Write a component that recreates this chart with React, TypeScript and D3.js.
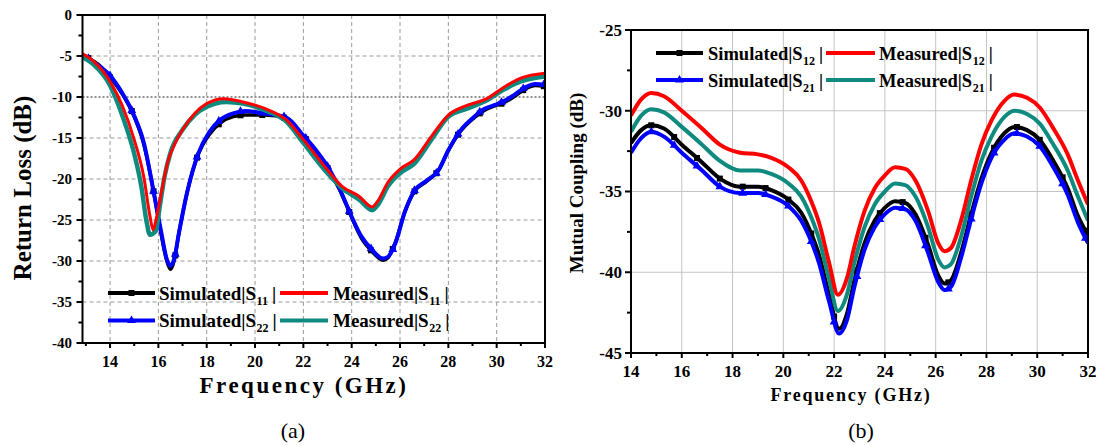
import React, { useEffect, useRef } from 'react';
import * as d3 from 'd3';

const W = 1101;
const H = 446;
const FONT = '"Liberation Serif", "Times New Roman", serif';

// ---------- Panel (a): Return loss ----------
const aXTicks = [14, 16, 18, 20, 22, 24, 26, 28, 30, 32];
const aXMinor = [13, 15, 17, 19, 21, 23, 25, 27, 29, 31];
const aYTicks = [0, -5, -10, -15, -20, -25, -30, -35, -40];
const aYMinor = [-2.5, -7.5, -12.5, -17.5, -22.5, -27.5, -32.5, -37.5];

const aSimS11: [number, number][] = [
  [12.9, -5.0], [13.5, -6.0], [14, -7.6], [14.5, -9.6], [15, -12.4], [15.4, -15.8], [15.8, -21.5],
  [16.1, -26.5], [16.35, -30.0], [16.5, -31.0], [16.65, -30.0], [16.85, -26.6], [17.2, -21.5],
  [17.65, -17.0], [18.1, -14.6], [18.6, -13.1], [19.1, -12.4], [19.6, -12.2], [20.4, -12.2],
  [21.3, -12.6], [22.0, -14.8], [22.5, -16.5], [23.05, -18.9], [23.5, -21.3], [24.0, -24.7],
  [24.4, -27.2], [24.8, -28.7], [25.3, -29.9], [25.5, -29.6], [25.8, -27.8], [26.2, -24.0],
  [26.6, -21.5], [27.1, -20.3], [27.6, -18.9], [28.0, -16.5], [28.5, -14.2], [29.0, -12.7],
  [29.4, -11.8], [29.9, -11.1], [30.3, -10.7], [30.7, -10.0], [31.2, -9.0], [31.6, -8.6], [32, -8.7],
];
const aSimS22: [number, number][] = [
  [12.95, -5.0], [13.5, -6.1], [14, -7.4], [14.5, -9.5], [15, -12.3], [15.4, -15.6], [15.8, -21.5],
  [16.1, -26.2], [16.35, -29.8], [16.5, -30.6], [16.65, -29.8], [16.85, -26.6], [17.2, -21.5],
  [17.65, -16.9], [18.1, -14.3], [18.6, -12.7], [19.1, -12.0], [19.6, -11.7], [20.4, -12.0],
  [21.3, -12.5], [22.0, -14.7], [22.5, -16.4], [23.05, -18.7], [23.5, -21.2], [24.0, -24.6],
  [24.4, -27.0], [24.8, -28.5], [25.3, -29.7], [25.5, -29.5], [25.8, -27.9], [26.2, -24.0],
  [26.6, -21.4], [27.1, -20.2], [27.6, -18.9], [28.0, -16.5], [28.5, -14.1], [29.0, -12.6],
  [29.4, -11.6], [29.9, -11.0], [30.3, -10.5], [30.7, -9.8], [31.2, -8.8], [31.6, -8.4], [32, -8.5],
];
const aMeasS11: [number, number][] = [
  [12.85, -4.7], [13.3, -5.6], [14, -8.1], [14.5, -11.0], [15, -15.2], [15.4, -19.8], [15.65, -24.5],
  [15.78, -26.2], [15.9, -25.0], [16.1, -22.0], [16.4, -17.8], [16.7, -15.6], [17.0, -14.0],
  [17.5, -12.0], [18.0, -10.8], [18.7, -10.2], [19.5, -10.6], [20.4, -11.4], [21.3, -12.8],
  [22.0, -15.2], [23.0, -18.9], [23.6, -20.9], [24.3, -22.1], [24.85, -23.4], [25.1, -22.6],
  [25.5, -20.4], [26.0, -18.8], [26.6, -17.6], [27.3, -14.8], [28.0, -12.2], [28.8, -11.0],
  [29.6, -10.2], [30.3, -8.8], [31.0, -7.7], [32, -7.1],
];
const aMeasS22: [number, number][] = [
  [12.85, -5.1], [13.3, -6.0], [14, -8.6], [14.5, -12.2], [15, -16.9], [15.3, -21.0], [15.5, -25.0],
  [15.65, -26.8], [15.9, -26.3], [16.05, -23.5], [16.25, -19.8], [16.5, -16.8], [17.0, -14.0],
  [17.5, -12.2], [18.0, -11.2], [18.8, -10.6], [19.5, -10.8], [20.4, -11.6], [21.3, -13.0],
  [22.0, -15.6], [23.0, -19.3], [23.6, -21.1], [24.3, -22.5], [24.85, -23.8], [25.1, -23.1],
  [25.5, -20.9], [26.0, -19.3], [26.6, -18.1], [27.3, -15.2], [28.0, -12.4], [28.8, -11.4],
  [29.6, -10.4], [30.3, -9.1], [31.0, -8.1], [32, -7.5],
];
const aMarkerFreqs = [13.1, 14.0, 14.9, 15.8, 16.7, 17.6, 18.5, 19.4, 20.3, 21.2, 22.1, 23.0, 23.9,
  24.8, 25.7, 26.6, 27.5, 28.4, 29.3, 30.2, 31.1, 31.95];

// ---------- Panel (b): Mutual coupling ----------
const bXTicks = [14, 16, 18, 20, 22, 24, 26, 28, 30, 32];
const bXMinor = [15, 17, 19, 21, 23, 25, 27, 29, 31];
const bYTicks = [-25, -30, -35, -40, -45];
const bYMinor = [-27.5, -32.5, -37.5, -42.5];

const bSimS12: [number, number][] = [
  [14.0, -32.0], [14.4, -31.2], [14.8, -30.9], [15.3, -31.1], [16.0, -32.1], [16.8, -33.2], [17.5, -34.2],
  [18.3, -34.7], [19.0, -34.7], [19.5, -34.9], [20.2, -35.5], [20.7, -36.3], [21.1, -37.6], [21.4, -38.9],
  [21.8, -41.4], [22.2, -43.5], [22.5, -42.6], [22.8, -40.5], [23.2, -38.2], [23.6, -36.8], [24.0, -36.0],
  [24.4, -35.6], [24.8, -35.7], [25.2, -36.4], [25.7, -38.3], [26.1, -40.2], [26.35, -40.7], [26.6, -40.5],
  [27.0, -38.8], [27.4, -36.4], [27.8, -34.2], [28.2, -32.6], [28.7, -31.4], [29.1, -31.0], [29.6, -31.2],
  [30.1, -31.8], [30.6, -33.0], [31.2, -34.8], [31.6, -36.5], [32.0, -37.7],
];
const bSimS21: [number, number][] = [
  [14.0, -32.6], [14.4, -31.7], [14.8, -31.3], [15.3, -31.6], [16.0, -32.6], [16.8, -33.7], [17.5, -34.7],
  [18.3, -35.1], [19.0, -35.1], [19.5, -35.3], [20.2, -35.9], [20.7, -36.8], [21.1, -38.1], [21.4, -39.4],
  [21.8, -41.8], [22.2, -43.8], [22.5, -43.0], [22.8, -40.9], [23.2, -38.6], [23.6, -37.2], [24.0, -36.4],
  [24.4, -36.0], [24.8, -36.1], [25.2, -36.8], [25.7, -38.8], [26.1, -40.6], [26.35, -41.1], [26.6, -40.9],
  [27.0, -39.1], [27.4, -36.7], [27.8, -34.5], [28.2, -32.9], [28.7, -31.8], [29.1, -31.4], [29.6, -31.6],
  [30.1, -32.2], [30.6, -33.4], [31.2, -35.2], [31.6, -36.9], [32.0, -38.2],
];
const bMeasS12: [number, number][] = [
  [14.0, -30.3], [14.4, -29.3], [14.8, -28.9], [15.3, -29.1], [16.0, -30.0], [16.8, -31.1], [17.5, -32.1],
  [18.3, -32.6], [19.0, -32.7], [19.5, -32.9], [20.2, -33.5], [20.7, -34.3], [21.1, -35.6], [21.4, -36.9],
  [21.8, -39.4], [22.15, -41.4], [22.5, -40.4], [22.8, -38.4], [23.2, -36.2], [23.6, -34.8], [24.0, -34.0],
  [24.4, -33.5], [24.8, -33.6], [25.2, -34.3], [25.7, -36.2], [26.1, -38.2], [26.35, -38.7], [26.6, -38.5],
  [27.0, -36.8], [27.4, -34.3], [27.8, -32.1], [28.2, -30.6], [28.7, -29.4], [29.1, -29.0], [29.6, -29.2],
  [30.1, -29.8], [30.6, -31.0], [31.2, -32.7], [31.6, -34.3], [32.0, -35.8],
];
const bMeasS21: [number, number][] = [
  [14.0, -31.3], [14.4, -30.3], [14.8, -29.9], [15.3, -30.1], [16.0, -31.0], [16.8, -32.1], [17.5, -33.1],
  [18.3, -33.7], [19.0, -33.7], [19.5, -33.9], [20.2, -34.5], [20.7, -35.3], [21.1, -36.6], [21.4, -37.9],
  [21.8, -40.4], [22.15, -42.4], [22.5, -41.4], [22.8, -39.4], [23.2, -37.2], [23.6, -35.8], [24.0, -35.0],
  [24.4, -34.5], [24.8, -34.6], [25.2, -35.3], [25.7, -37.2], [26.1, -39.2], [26.35, -39.7], [26.6, -39.5],
  [27.0, -37.8], [27.4, -35.3], [27.8, -33.1], [28.2, -31.6], [28.7, -30.4], [29.1, -30.0], [29.6, -30.2],
  [30.1, -30.8], [30.6, -32.0], [31.2, -33.7], [31.6, -35.3], [32.0, -36.8],
];
const bMarkerFreqs = [14.8, 15.7, 16.6, 17.5, 18.4, 19.3, 20.2, 21.1, 22.0, 22.9, 23.8, 24.7, 25.6,
  26.5, 27.4, 28.3, 29.2, 30.1, 31.0, 31.9];

type Series = { data: [number, number][]; color: string; width: number; marker?: 'square' | 'triangle' };
type Legend = { x1: number; x2: number; tx: number; y: number; color: string; marker?: 'square' | 'triangle'; main: string; sub: string };

type Panel = {
  id: string;
  left: number; right: number; top: number; bottom: number;
  xDomain: [number, number]; yDomain: [number, number];
  xTicks: number[]; xMinor: number[]; yTicks: number[]; yMinor: number[];
  gridColor: string; gridDash: string | null; refLine?: number;
  series: Series[]; markerFreqs: number[];
  yLabelX: number; yLabelSize: number; xLabelY: number; xLabelSize: number;
  xTitle: { x: number; y: number; size: number; ls: number };
  yTitle: { x: number; y: number; size: number; text: string };
  tag: { x: number; y: number; text: string };
  legend: Legend[]; legendSize: number; legendSub: number; legendWidth: number;
};

function drawMarker(g: any, kind: 'square' | 'triangle', cx: number, cy: number, color: string) {
  if (kind === 'square') {
    g.append('rect').attr('x', cx - 3).attr('y', cy - 3).attr('width', 6).attr('height', 6).attr('fill', color);
  } else {
    g.append('path')
      .attr('d', d3.symbol(d3.symbolTriangle, 34)())
      .attr('transform', `translate(${cx},${cy})`)
      .attr('fill', color);
  }
}

function drawPanel(root: any, p: Panel) {
  const g = root.append('g');
  const x = d3.scaleLinear().domain(p.xDomain).range([p.left, p.right]);
  const y = d3.scaleLinear().domain(p.yDomain).range([p.bottom, p.top]);

  // grid
  const grid = g.append('g');
  p.xTicks.filter((t) => x(t) > p.left + 1 && x(t) < p.right - 1).forEach((t) => {
    grid.append('line').attr('x1', x(t)).attr('x2', x(t)).attr('y1', p.top).attr('y2', p.bottom)
      .attr('stroke', p.gridColor).attr('stroke-width', 1).attr('stroke-dasharray', p.gridDash);
  });
  p.yTicks.filter((t) => y(t) > p.top + 1 && y(t) < p.bottom - 1 && t !== p.refLine).forEach((t) => {
    grid.append('line').attr('y1', y(t)).attr('y2', y(t)).attr('x1', p.left).attr('x2', p.right)
      .attr('stroke', p.gridColor).attr('stroke-width', 1).attr('stroke-dasharray', p.gridDash);
  });
  if (p.refLine !== undefined) {
    grid.append('line').attr('y1', y(p.refLine)).attr('y2', y(p.refLine)).attr('x1', p.left).attr('x2', p.right)
      .attr('stroke', '#222').attr('stroke-width', 1.2).attr('stroke-dasharray', '2,2');
  }

  // clip
  const clipId = `clip-${p.id}`;
  root.append('defs').append('clipPath').attr('id', clipId).append('rect')
    .attr('x', p.left).attr('y', p.top).attr('width', p.right - p.left).attr('height', p.bottom - p.top);

  const line = d3.line<[number, number]>().x((d) => x(d[0])).y((d) => y(d[1])).curve(d3.curveMonotoneX);
  const plot = g.append('g').attr('clip-path', `url(#${clipId})`);
  p.series.forEach((s) => {
    const path = plot.append('path').attr('d', line(s.data)).attr('fill', 'none')
      .attr('stroke', s.color).attr('stroke-width', s.width).attr('stroke-linejoin', 'round');
    if (s.marker) {
      const node = path.node() as SVGPathElement;
      const total = node.getTotalLength();
      p.markerFreqs.forEach((f) => {
        const target = x(f);
        let lo = 0, hi = total;
        for (let i = 0; i < 40; i++) {
          const mid = (lo + hi) / 2;
          if (node.getPointAtLength(mid).x < target) lo = mid; else hi = mid;
        }
        const pt = node.getPointAtLength((lo + hi) / 2);
        drawMarker(plot, s.marker as any, pt.x, pt.y, s.color);
      });
    }
  });

  // frame
  g.append('rect').attr('x', p.left).attr('y', p.top).attr('width', p.right - p.left).attr('height', p.bottom - p.top)
    .attr('fill', 'none').attr('stroke', '#000').attr('stroke-width', 2);

  // ticks
  const tk = g.append('g').attr('stroke', '#000').attr('stroke-width', 2);
  p.xTicks.forEach((t) => tk.append('line').attr('x1', x(t)).attr('x2', x(t)).attr('y1', p.bottom).attr('y2', p.bottom + 5));
  p.xMinor.forEach((t) => tk.append('line').attr('x1', x(t)).attr('x2', x(t)).attr('y1', p.bottom).attr('y2', p.bottom + 3));
  p.yTicks.forEach((t) => tk.append('line').attr('y1', y(t)).attr('y2', y(t)).attr('x1', p.left).attr('x2', p.left - 6));
  p.yMinor.forEach((t) => tk.append('line').attr('y1', y(t)).attr('y2', y(t)).attr('x1', p.left).attr('x2', p.left - 4));

  // tick labels
  const lab = g.append('g').attr('font-family', FONT).attr('font-weight', 'bold').attr('fill', '#000');
  p.xTicks.forEach((t) => lab.append('text').attr('x', x(t)).attr('y', p.xLabelY).attr('text-anchor', 'middle')
    .attr('font-size', p.xLabelSize).text(String(t)));
  p.yTicks.forEach((t) => lab.append('text').attr('x', p.yLabelX).attr('y', y(t)).attr('dy', '0.35em')
    .attr('text-anchor', 'end').attr('font-size', p.yLabelSize).text(String(t)));

  // titles
  lab.append('text').attr('x', p.xTitle.x).attr('y', p.xTitle.y).attr('text-anchor', 'middle')
    .attr('font-size', p.xTitle.size).attr('letter-spacing', p.xTitle.ls).text('Frequency (GHz)');
  lab.append('text').attr('transform', `translate(${p.yTitle.x},${p.yTitle.y}) rotate(-90)`)
    .attr('text-anchor', 'middle').attr('font-size', p.yTitle.size).text(p.yTitle.text);
  g.append('text').attr('x', p.tag.x).attr('y', p.tag.y).attr('text-anchor', 'middle')
    .attr('font-family', FONT).attr('font-size', 22).text(p.tag.text);

  // legend
  const lg = g.append('g');
  p.legend.forEach((l) => {
    lg.append('line').attr('x1', l.x1).attr('x2', l.x2).attr('y1', l.y).attr('y2', l.y)
      .attr('stroke', l.color).attr('stroke-width', p.legendWidth);
    if (l.marker) drawMarker(lg, l.marker, (l.x1 + l.x2) / 2, l.y, l.color);
    const t = lg.append('text').attr('x', l.tx).attr('y', l.y + 6.5).attr('font-family', FONT)
      .attr('font-weight', 'bold').attr('font-size', p.legendSize).attr('fill', '#000');
    t.append('tspan').text(l.main);
    t.append('tspan').attr('font-size', p.legendSub).attr('dy', 5).attr('dx', 0.5).text(l.sub);
    t.append('tspan').attr('dy', -5).attr('dx', 4).text('|');
  });
}

const panelA: Panel = {
  id: 'a', left: 82.5, right: 545, top: 15, bottom: 343,
  xDomain: [12.86, 32], yDomain: [-40, 0],
  xTicks: aXTicks, xMinor: aXMinor, yTicks: aYTicks, yMinor: aYMinor,
  gridColor: '#9a9a9a', gridDash: '4,3', refLine: -10,
  series: [
    { data: aSimS11, color: '#000000', width: 3.5, marker: 'square' },
    { data: aSimS22, color: '#0000ff', width: 4, marker: 'triangle' },
    { data: aMeasS22, color: '#0f8a7e', width: 4.5 },
    { data: aMeasS11, color: '#ff0000', width: 3 },
  ],
  markerFreqs: aMarkerFreqs,
  yLabelX: 72, yLabelSize: 15, xLabelY: 367, xLabelSize: 16,
  xTitle: { x: 304, y: 393, size: 23, ls: 2.5 },
  yTitle: { x: 31, y: 188, size: 25, text: 'Return Loss (dB)' },
  tag: { x: 293, y: 438, text: '(a)' },
  legend: [
    { x1: 108, x2: 155, tx: 159, y: 293, color: '#000000', marker: 'square', main: 'Simulated|S', sub: '11' },
    { x1: 280, x2: 328, tx: 333, y: 293, color: '#ff0000', main: 'Measured|S', sub: '11' },
    { x1: 108, x2: 155, tx: 159, y: 320.5, color: '#0000ff', marker: 'triangle', main: 'Simulated|S', sub: '22' },
    { x1: 280, x2: 328, tx: 333, y: 320.5, color: '#0f8a7e', main: 'Measured|S', sub: '22' },
  ],
  legendSize: 19, legendSub: 12, legendWidth: 4,
};

const panelB: Panel = {
  id: 'b', left: 631, right: 1088, top: 30, bottom: 353,
  xDomain: [14, 32], yDomain: [-45, -25],
  xTicks: bXTicks, xMinor: bXMinor, yTicks: bYTicks, yMinor: bYMinor,
  gridColor: '#c4c4c4', gridDash: null,
  series: [
    { data: bSimS12, color: '#000000', width: 4, marker: 'square' },
    { data: bSimS21, color: '#0000ff', width: 4, marker: 'triangle' },
    { data: bMeasS21, color: '#0f8a7e', width: 4 },
    { data: bMeasS12, color: '#ff0000', width: 4 },
  ],
  markerFreqs: bMarkerFreqs,
  yLabelX: 622, yLabelSize: 17, xLabelY: 377, xLabelSize: 17,
  xTitle: { x: 851, y: 401, size: 18, ls: 1.8 },
  yTitle: { x: 583, y: 183, size: 19, text: 'Mutual Coupling (dB)' },
  tag: { x: 861, y: 438, text: '(b)' },
  legend: [
    { x1: 656, x2: 703, tx: 708, y: 53, color: '#000000', marker: 'square', main: 'Simulated|S', sub: '12' },
    { x1: 826, x2: 875, tx: 879, y: 53, color: '#ff0000', main: 'Measured|S', sub: '12' },
    { x1: 656, x2: 703, tx: 708, y: 80, color: '#0000ff', marker: 'triangle', main: 'Simulated|S', sub: '21' },
    { x1: 826, x2: 875, tx: 879, y: 80, color: '#0f8a7e', main: 'Measured|S', sub: '21' },
  ],
  legendSize: 18.5, legendSub: 12, legendWidth: 4,
};

export default function App() {
  const ref = useRef<SVGSVGElement>(null);
  useEffect(() => {
    const svg = d3.select(ref.current);
    svg.selectAll('*').remove();
    drawPanel(svg, panelA);
    drawPanel(svg, panelB);
  }, []);
  return (
    <svg
      ref={ref}
      width={W}
      height={H}
      style={{ position: 'absolute', left: 0, top: 0, background: '#ffffff' }}
    />
  );
}
